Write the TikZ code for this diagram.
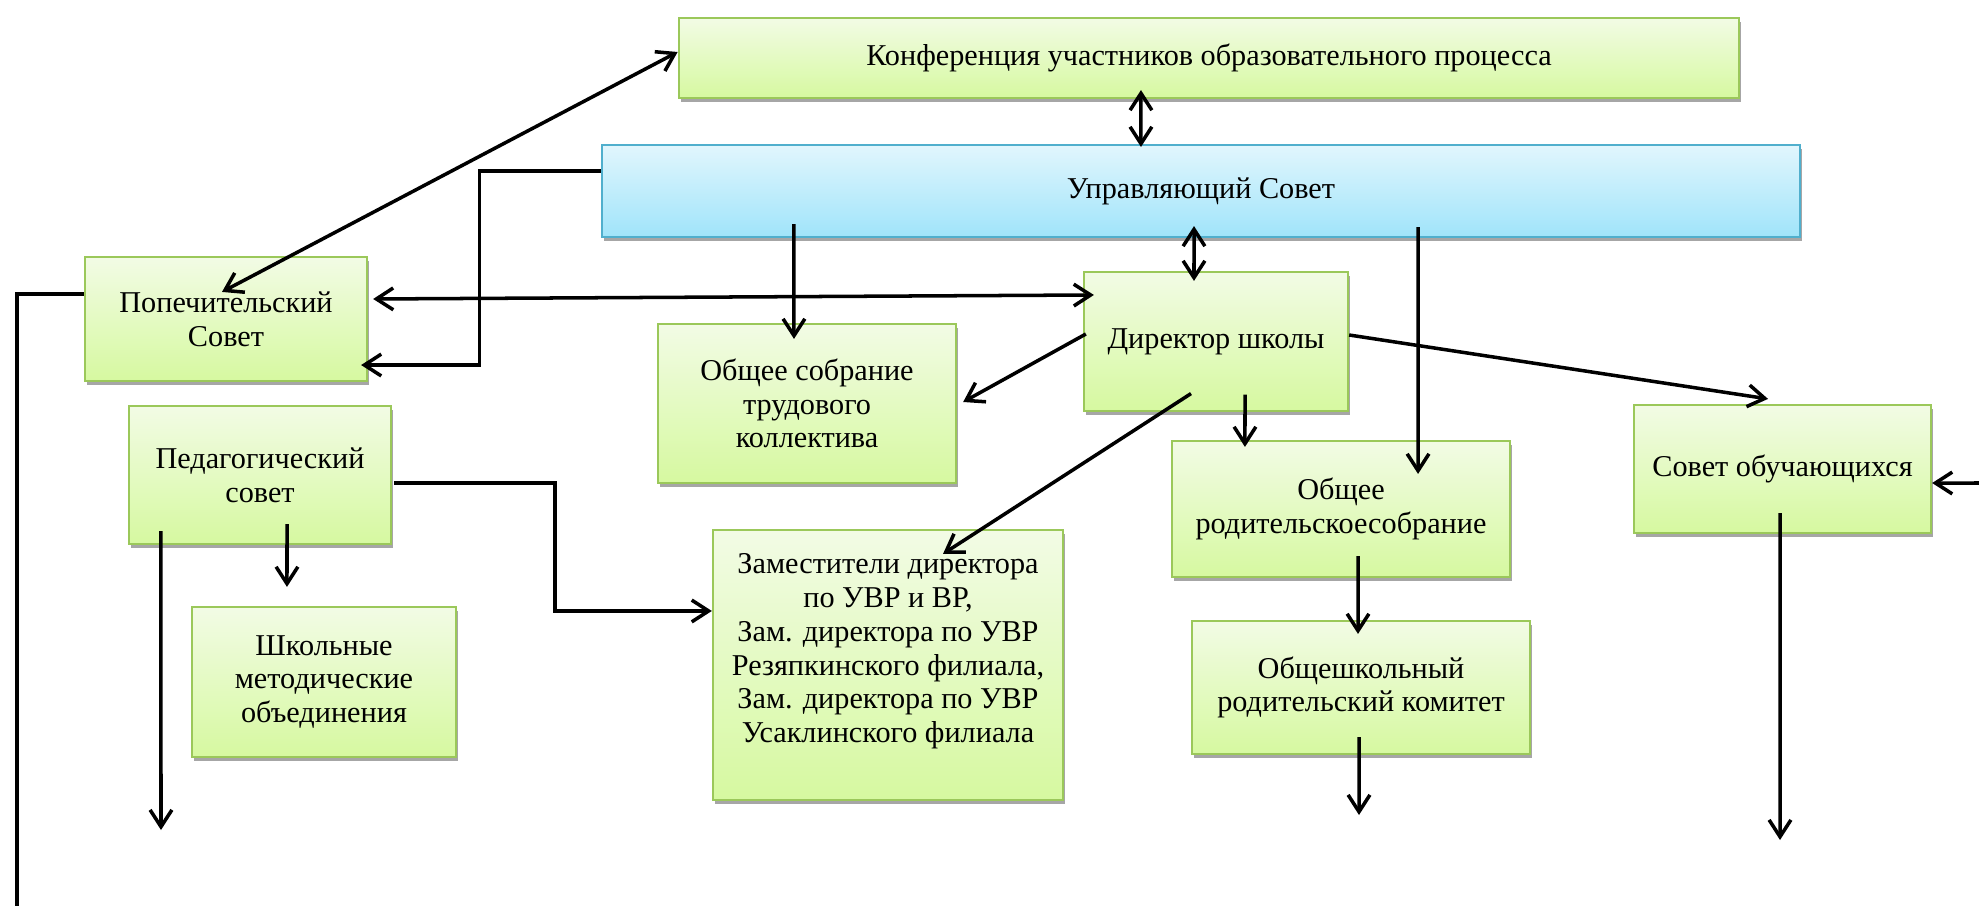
\documentclass[tikz,border=0pt]{standalone}
\usepackage{fontspec}
\setmainfont{Liberation Serif}
\usetikzlibrary{arrows.meta, shadows, positioning}
\definecolor{greentop}{RGB}{242,251,229}
\definecolor{greenbot}{RGB}{214,249,160}
\definecolor{boxgreen}{RGB}{155,200,90}
\definecolor{bluetop}{RGB}{225,246,253}
\definecolor{bluebot}{RGB}{160,228,250}
\definecolor{boxblue}{RGB}{80,175,205}
\tikzset{
x=0.01cm, y=-0.01cm, % one unit is one pixel of the scheme, y grows downwards
>={Straight Barb[length=4.8pt,width=6.2pt]}, % open arrow heads
block/.style={draw=boxgreen, line width=0.6pt, top color=greentop, bottom color=greenbot,
  align=center, inner sep=2pt, font=\fontsize{8.6}{9.6}\selectfont,
  drop shadow={shadow xshift=0.02cm, shadow yshift=-0.04cm, fill=black!35, opacity=1}},
mainbox/.style={block, draw=boxblue, top color=bluetop, bottom color=bluebot}, % the council
link/.style={line width=1pt},
}
\begin{document}
\begin{tikzpicture}
  \useasboundingbox (0,0) rectangle (1979,906);

  \node[block, minimum width=10.60cm, minimum height=0.80cm] (konf) at (1209,58) {Конференция участников образовательного процесса};
  \node[mainbox, minimum width=11.98cm, minimum height=0.92cm] (upr) at (1201,191) {Управляющий Совет};
  \node[block, minimum width=2.82cm, minimum height=1.24cm] (popech) at (226,319) {Попечительский\\Совет};
  \node[block, minimum width=2.64cm, minimum height=1.39cm] (dir) at (1216,341.5) {Директор школы};
  \node[block, minimum width=2.98cm, minimum height=1.59cm] (trud) at (807,403.5) {Общее собрание\\трудового\\коллектива};
  \node[block, minimum width=2.62cm, minimum height=1.38cm] (ped) at (260,475) {Педагогический\\совет};
  \node[block, minimum width=2.64cm, minimum height=1.50cm] (mo) at (324,682) {Школьные\\методические\\объединения};
  \node[block, minimum width=3.50cm, minimum height=2.70cm] (zam) at (888,665) {Заместители директора\\по УВР и ВР,\\Зам. директора по УВР\\Резяпкинского филиала,\\Зам. директора по УВР\\Усаклинского филиала\\\mbox{}};
  \node[block, minimum width=3.38cm, minimum height=1.36cm] (sobr) at (1341,509) {Общее\\родительскоесобрание};
  \node[block, minimum width=3.38cm, minimum height=1.33cm] (kom) at (1361,687.5) {Общешкольный\\родительский комитет};
  \node[block, minimum width=2.97cm, minimum height=1.28cm] (uch) at (1782.5,469) {Совет обучающихся};

  % open ends of the lines
  \coordinate (pend) at (17,906);
  \coordinate (pedend) at (161,830);
  \coordinate (komend) at (1359,815);
  \coordinate (uchend) at (1780,840);
  \coordinate (uchin) at (1979,483);

  \draw[link, <->] ([xshift=-0.04cm,yshift=-0.36cm]popech.north) -- ([yshift=0.06cm]konf.west);
  \draw[link, <->] ([xshift=-0.68cm,yshift=0.09cm]konf.south) -- ([xshift=-0.60cm,yshift=-0.03cm]upr.north);
  \draw[link, <->] ([xshift=-0.07cm,yshift=0.12cm]upr.south) -- ([xshift=-0.22cm,yshift=-0.10cm]dir.north);
  \draw[link, ->] ([xshift=-4.07cm,yshift=0.14cm]upr.south) -- ([xshift=-0.13cm,yshift=-0.16cm]trud.north);
  \draw[link, ->] ([xshift=2.17cm,yshift=0.11cm]upr.south) -- ([xshift=0.77cm,yshift=-0.34cm]sobr.north);
  \draw[link, ->] ([yshift=0.20cm]upr.west) -- ++(-121,0) |- ([xshift=-0.07cm,yshift=-0.46cm]popech.east);
  \draw[link, <->] ([xshift=0.05cm,yshift=0.20cm]popech.east) -- ([xshift=0.11cm,yshift=0.465cm]dir.west);
  \draw[link] ([yshift=0.25cm]popech.west) -| (pend);
  \draw[link, ->] ([xshift=0.03cm,yshift=0.075cm]dir.west) -- ([xshift=0.06cm,yshift=0.015cm]trud.east);
  \draw[link, ->] ([xshift=-0.25cm,yshift=0.185cm]dir.south) -- ([xshift=0.55cm,yshift=-0.25cm]zam.north);
  \draw[link, ->] ([xshift=0.29cm,yshift=0.175cm]dir.south) -- ([xshift=-0.96cm,yshift=-0.07cm]sobr.north);
  \draw[link, ->] ([yshift=0.065cm]dir.east) -- ([xshift=-0.145cm,yshift=0.05cm]uch.north);
  \draw[link, ->] ([xshift=0.27cm,yshift=0.21cm]ped.south) -- ([xshift=-0.37cm,yshift=0.19cm]mo.north);
  \draw[link, ->] ([xshift=-0.99cm,yshift=0.14cm]ped.south) -- (pedend);
  \draw[link, ->] ([xshift=0.02cm,yshift=-0.08cm]ped.east) -- ++(161,0) |- ([yshift=0.54cm]zam.west);
  \draw[link, ->] ([xshift=0.17cm,yshift=0.22cm]sobr.south) -- ([xshift=-0.03cm,yshift=-0.14cm]kom.north);
  \draw[link, ->] ([xshift=-0.02cm,yshift=0.18cm]kom.south) -- (komend);
  \draw[link, ->] ([xshift=-0.025cm,yshift=0.21cm]uch.south) -- (uchend);
  \draw[link, ->] (uchin) -- ([yshift=-0.14cm]uch.east);
\end{tikzpicture}
\end{document}
